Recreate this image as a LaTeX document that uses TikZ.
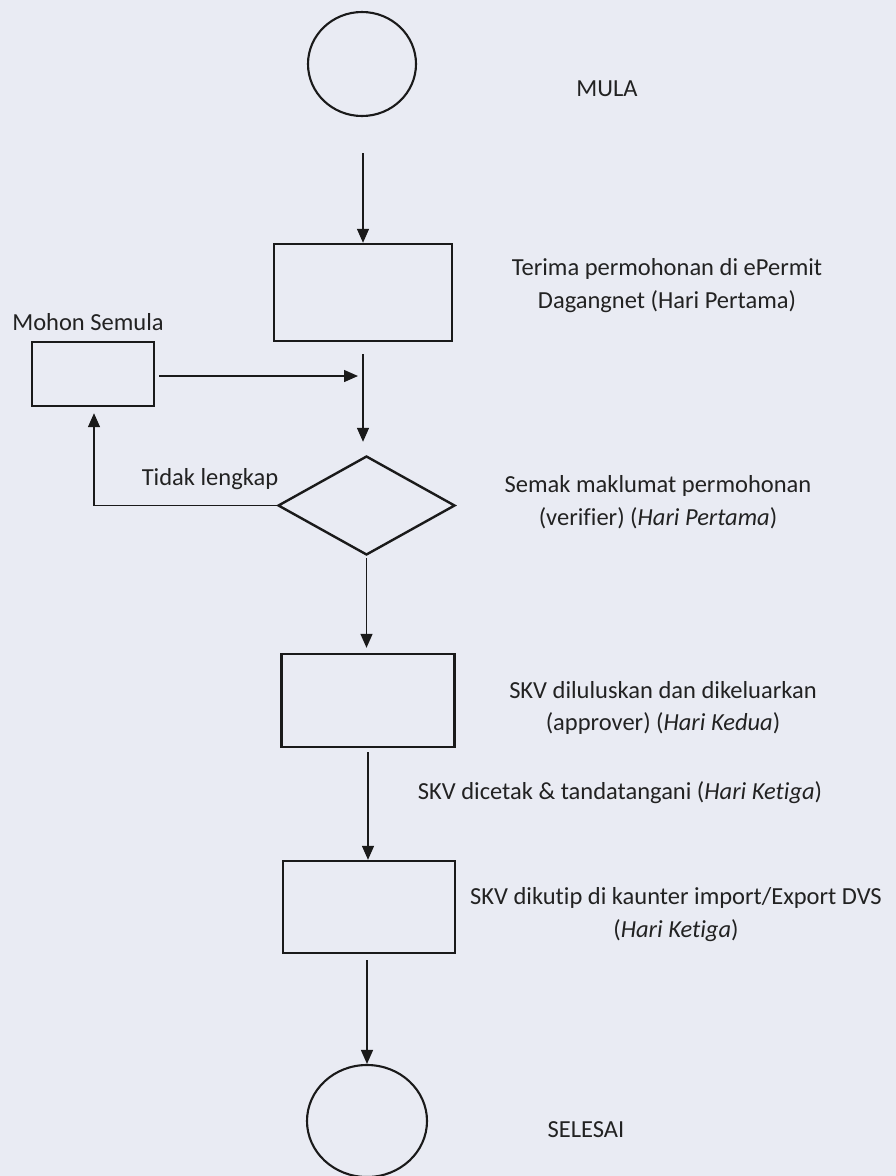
\documentclass[tikz,border=0pt]{standalone}
\usepackage{fontspec}
\setmainfont{Carlito}[Ligatures=NoCommon]
\usetikzlibrary{shapes.geometric,arrows.meta,calc}
\definecolor{paper}{HTML}{E9EBF3}
\definecolor{ink}{HTML}{1A1A1A}
\definecolor{txt}{HTML}{222222}
\begin{document}
\begin{tikzpicture}[x=1pt,y=-1pt,
  box/.style={draw=ink,line width=2.4pt,rectangle,inner sep=0pt},
  oval/.style={draw=ink,line width=2.1pt,ellipse,inner sep=0pt},
  dia/.style={draw=ink,line width=2.4pt,diamond,inner sep=0pt},
  arr/.style={draw=ink,line width=1.4pt,-{Triangle[width=12pt,length=14pt]}},
  lbl/.style={text=txt,inner sep=0pt,anchor=base,font=\fontsize{24.5}{30}\selectfont}]
\fill[paper] (0,0) rectangle (896,1176);
\useasboundingbox (0,0) rectangle (896,1176);
% shapes
\node[oval,minimum width=108pt,minimum height=104pt] (c1) at (362,64) {};
\node[box,minimum width=178pt,minimum height=97pt] (r1) at (363,292.5) {};
\node[box,minimum width=122pt,minimum height=64pt] (m) at (93,374) {};
\node[dia,minimum width=177pt,minimum height=99pt] (d) at (366.5,505.5) {};
\node[box,minimum width=173pt,minimum height=93pt] (r3) at (368,700.5) {};
\node[box,minimum width=172pt,minimum height=92pt] (r4) at (369,907) {};
\node[oval,minimum width=120pt,minimum height=112pt] (c2) at (367,1121) {};
% labels
\node[lbl] (tmula) at (607,96) {MULA};
\node[lbl] (tmohon) at (88,330) {Mohon Semula};
\node[lbl] (t1a) at (667,275) {Terima permohonan di ePermit};
\node[lbl] (t1b) at (667,308) {Dagangnet (Hari Pertama)};
\node[lbl] (ttidak) at (210,485) {Tidak lengkap};
\node[lbl] (t2a) at (658,492) {Semak maklumat permohonan};
\node[lbl] (t2b) at (658,525) {(verifier) (\textit{Hari Pertama})};
\node[lbl] (t3a) at (663,698) {SKV diluluskan dan dikeluarkan};
\node[lbl] (t3b) at (663,730) {(approver) (\textit{Hari Kedua})};
\node[lbl] (t4) at (620,799) {SKV dicetak \& tandatangani (\textit{Hari Ketiga})};
\node[lbl] (t5a) at (676,904) {SKV dikutip di kaunter import/Export DVS};
\node[lbl] (t5b) at (676,937) {(\textit{Hari Ketiga})};
\node[lbl] (tsel) at (586,1137) {SELESAI};
% connectors
\draw[arr] ($(r1.north |- c1.south)+(0,36)$) -- (r1.north);
\draw[arr] ($(r1.south)+(0,12)$) -- ($(r1.south |- d.north)+(0,-13)$);
\draw[arr] ($(m.east)+(4,2)$) -- ($(r1.south |- m.east)+(-5,2)$);
\draw[arr] (d.west) -| ($(m.south)+(1,6)$);
\draw[arr] ($(d.south)+(0,2)$) -- ($(d.south |- r3.north)+(0,-5)$);
\draw[arr] ($(r3.south)+(0,4)$) -- (r3.south |- r4.north);
\draw[arr] ($(c2.north |- r4.south)+(0,6)$) -- (c2.north);
\end{tikzpicture}
\end{document}
